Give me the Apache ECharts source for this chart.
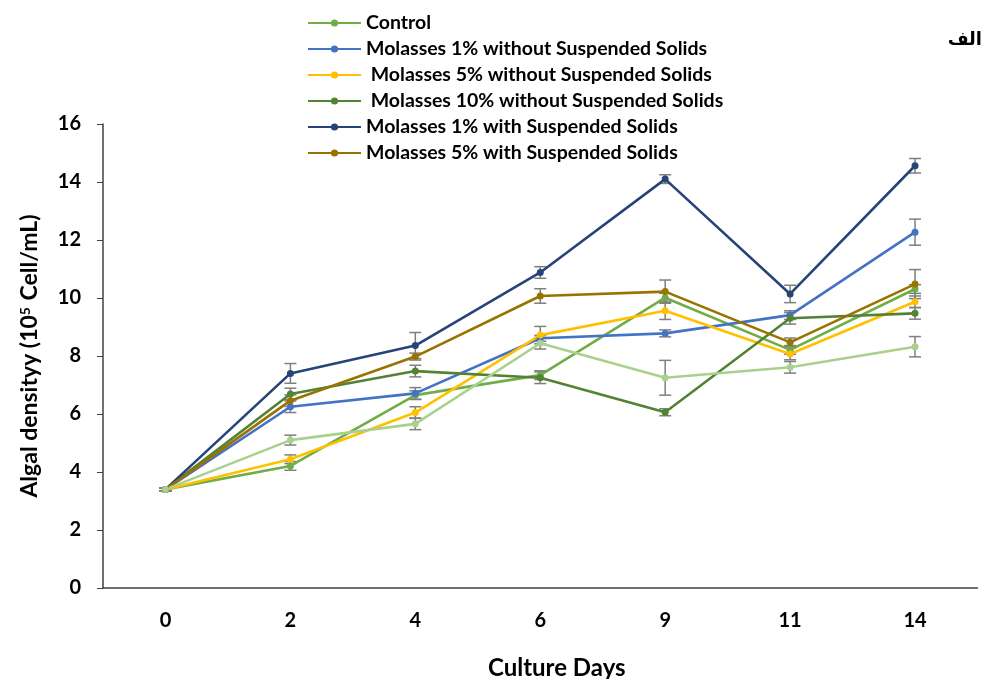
<!DOCTYPE html>
<html>
<head>
<meta charset="utf-8">
<script src="https://cdn.jsdelivr.net/npm/echarts@6/dist/echarts.min.js"></script>
<style>html,body{margin:0;padding:0;background:#fff}#c{width:992px;height:679px}</style>
</head>
<body>
<div id="c"></div>
<script>
var days = ['0', '2', '4', '6', '9', '11', '14'];
var yTicks = [0, 2, 4, 6, 8, 10, 12, 14, 16];

var control = [3.4, 4.21, 6.65, 7.34, 10.01, 8.21, 10.31];
var m1wo    = [3.4, 6.25, 6.71, 8.61, 8.78, 9.41, 12.27];
var m5wo    = [3.4, 4.44, 6.05, 8.72, 9.56, 8.07, 9.87];
var m10wo   = [3.4, 6.69, 7.48, 7.25, 6.06, 9.30, 9.47];
var m1w     = [3.4, 7.40, 8.36, 10.88, 14.10, 10.14, 14.56];
var m5w     = [3.4, 6.46, 7.98, 10.07, 10.22, 8.47, 10.48];
var m10w    = [3.4, 5.10, 5.66, 8.44, 7.25, 7.61, 8.32];

var controlErr = [0.05, 0.15, 0.15, 0.15, 0.15, 0.15, 0.15];
var m1woErr    = [0.05, 0.20, 0.20, 0.10, 0.12, 0.15, 0.45];
var m5woErr    = [0.05, 0.15, 0.20, 0.30, 0.30, 0.20, 0.20];
var m10woErr   = [0.05, 0.20, 0.20, 0.20, 0.12, 0.20, 0.20];
var m1wErr     = [0.05, 0.34, 0.45, 0.20, 0.15, 0.30, 0.25];
var m5wErr     = [0.05, 0.20, 0.12, 0.25, 0.40, 0.15, 0.50];
var m10wErr    = [0.05, 0.17, 0.20, 0.20, 0.60, 0.20, 0.35];

var seriesNames = ['Control', 'Molasses 1% without Suspended Solids', ' Molasses 5% without Suspended Solids',
  ' Molasses 10% without Suspended Solids', 'Molasses 1% with Suspended Solids', 'Molasses 5% with Suspended Solids',
  'Molasses 10% with Suspended Solids'];
var seriesData = [control, m1wo, m5wo, m10wo, m1w, m5w, m10w];
var seriesErr = [controlErr, m1woErr, m5woErr, m10woErr, m1wErr, m5wErr, m10wErr];
var colors = ['#70AD47', '#4472C4', '#FFC000', '#548235', '#264478', '#997300', '#A9D18E'];

var FONT = 'Lato';
var series = [];
seriesData.forEach(function (d, i) {
  var errData = d.map(function (v, k) { return [k, v - seriesErr[i][k], v + seriesErr[i][k]]; });
  series.push({
    type: 'custom',
    name: 'err' + i,
    data: errData,
    z: 1,
    silent: true,
    renderItem: function (params, api) {
      var x = api.value(0);
      var lo = api.coord([x, api.value(1)]);
      var hi = api.coord([x, api.value(2)]);
      var w = 6;
      var st = { stroke: '#7F7F7F', lineWidth: 1.5 };
      return {
        type: 'group',
        children: [
          { type: 'line', shape: { x1: lo[0], y1: lo[1], x2: hi[0], y2: hi[1] }, style: st },
          { type: 'line', shape: { x1: lo[0] - w, y1: lo[1], x2: lo[0] + w, y2: lo[1] }, style: st },
          { type: 'line', shape: { x1: hi[0] - w, y1: hi[1], x2: hi[0] + w, y2: hi[1] }, style: st }
        ]
      };
    }
  });
});
seriesData.forEach(function (d, i) {
  series.push({
    type: 'line',
    name: seriesNames[i],
    data: d,
    z: 2,
    symbol: 'circle',
    symbolSize: 7,
    lineStyle: { width: 2.6, color: colors[i] },
    itemStyle: { color: colors[i] },
    emphasis: { disabled: true },
    animation: false
  });
});

var chart = echarts.init(document.getElementById('c'));
chart.setOption({
  animation: false,
  backgroundColor: '#fff',
  color: colors,
  grid: { left: 103, right: 14.5, top: 124, bottom: 91, containLabel: false, outerBoundsMode: 'none' },
  legend: {
    data: seriesNames.slice(0, 6),
    orient: 'vertical',
    left: 302,
    top: 8,
    itemGap: 6,
    itemWidth: 53,
    itemHeight: 9,
    itemStyle: { borderWidth: 0 },
    textStyle: { fontFamily: FONT, fontWeight: 'bold', fontSize: 19.5, lineHeight: 20, color: '#000' }
  },
  xAxis: {
    type: 'category',
    data: days,
    boundaryGap: true,
    name: 'Culture Days',
    nameLocation: 'middle',
    nameGap: 68,
    nameTextStyle: { fontFamily: FONT, fontWeight: 'bold', fontSize: 24, color: '#000', padding: [0, 0, 0, 33] },
    axisLine: { lineStyle: { color: '#404040', width: 1.5 } },
    axisTick: { show: false },
    axisLabel: { fontFamily: FONT, fontWeight: 'bold', fontSize: 20, color: '#000', margin: 23 },
    splitLine: { show: false }
  },
  yAxis: {
    type: 'value',
    min: 0,
    max: 16,
    interval: 2,
    name: '{b|Algal densityy (10}{s|5}{b| Cell/mL)}',
    nameLocation: 'middle',
    nameGap: 61,
    nameRotate: 90,
    nameTextStyle: {
      rich: {
        b: { fontFamily: FONT, fontWeight: 'bold', fontSize: 23, color: '#000' },
        s: { fontFamily: FONT, fontWeight: 'bold', fontSize: 14, color: '#000', verticalAlign: 'top', padding: [0, 1, 10, 0] }
      }
    },
    axisLine: { show: true, lineStyle: { color: '#404040', width: 1.5 } },
    axisTick: { show: true, length: 6, lineStyle: { color: '#404040' } },
    axisLabel: { fontFamily: FONT, fontWeight: 'bold', fontSize: 20, color: '#000', margin: 22 },
    splitLine: { show: false }
  },
  graphic: [{
    type: 'text',
    x: 982,
    y: 40,
    style: { text: 'الف', font: 'bold 18px "DejaVu Sans"', fill: '#000', textAlign: 'right', textVerticalAlign: 'middle' }
  }],
  series: series
});
</script>
</body>
</html>
